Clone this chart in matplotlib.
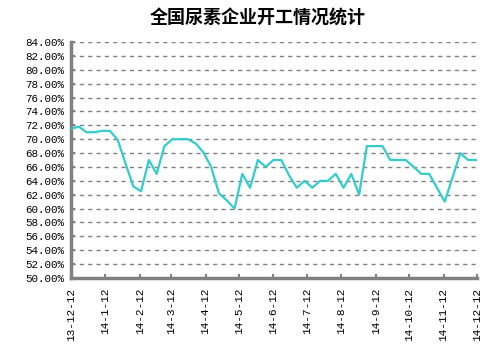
import matplotlib
matplotlib.use("Agg")
import matplotlib.pyplot as plt
import matplotlib.dates as mdates
import numpy as np
import datetime as dt

title = "全国尿素企业开工情况统计"
start_date = dt.date(2013, 12, 12)
values = [71.5, 71.8, 71.0, 71.0, 71.2, 71.2, 69.9, 66.5, 63.2, 62.5,
          67.0, 65.0, 69.0, 70.0, 70.0, 70.0, 69.4, 68.1, 66.0, 62.2,
          61.2, 60.0, 65.0, 63.0, 67.0, 66.0, 67.0, 67.0, 64.8, 63.0,
          64.0, 63.0, 64.0, 64.0, 65.0, 63.0, 65.0, 62.0, 69.0, 69.0,
          69.0, 67.0, 67.0, 67.0, 66.0, 65.0, 65.0, 63.0, 61.0, 64.5,
          68.0, 67.0, 67.0]
tick_labels = ["13-12-12", "14-1-12", "14-2-12", "14-3-12", "14-4-12", "14-5-12",
               "14-6-12", "14-7-12", "14-8-12", "14-9-12", "14-10-12", "14-11-12", "14-12-12"]
yticks = list(range(50, 85, 2))

dates = [start_date + dt.timedelta(days=7 * i) for i in range(len(values))]
tick_dates = [dt.date(2013, 12, 12)] + [dt.date(2014, m, 12) for m in range(1, 13)]

plt.rcParams['font.family'] = ['Liberation Mono', 'DejaVu Sans']
fig = plt.figure(figsize=(5.03, 3.51), dpi=100)
W, H = 503, 351
ax = fig.add_axes([71 / W, 1 - 278 / H, (477 - 71) / W, (278 - 42) / H])

ax.plot(dates, values, color="#33CCCC", lw=1.6, zorder=3)

ax.set_xlim(tick_dates[0], tick_dates[-1])
ax.set_ylim(50, 84)
ax.set_yticks(yticks)
ax.set_yticklabels([f"{v:.2f}%" for v in yticks], fontsize=7.8)
ax.set_xticks(tick_dates)
ax.set_xticklabels(tick_labels, rotation=90, fontsize=8)

ax.grid(axis='y', color="#808080", linestyle=(0, (3, 3)), lw=1.0)
ax.grid(axis='x', visible=False)
for s in ['top', 'right']:
    ax.spines[s].set_visible(False)
for s in ['left', 'bottom']:
    ax.spines[s].set_color("#808080")
    ax.spines[s].set_linewidth(2.5)
ax.tick_params(axis='both', direction='in', length=3, color="#808080", width=1.5)
ax.tick_params(axis='y', pad=5)
ax.tick_params(axis='x', pad=7)

fig.text(0.513, 1 - 18 / H, title, ha='center', va='center', fontsize=13,
         fontweight='bold', family=['Noto Sans CJK SC', 'DejaVu Sans'])

fig.savefig("out.png", dpi=100)
